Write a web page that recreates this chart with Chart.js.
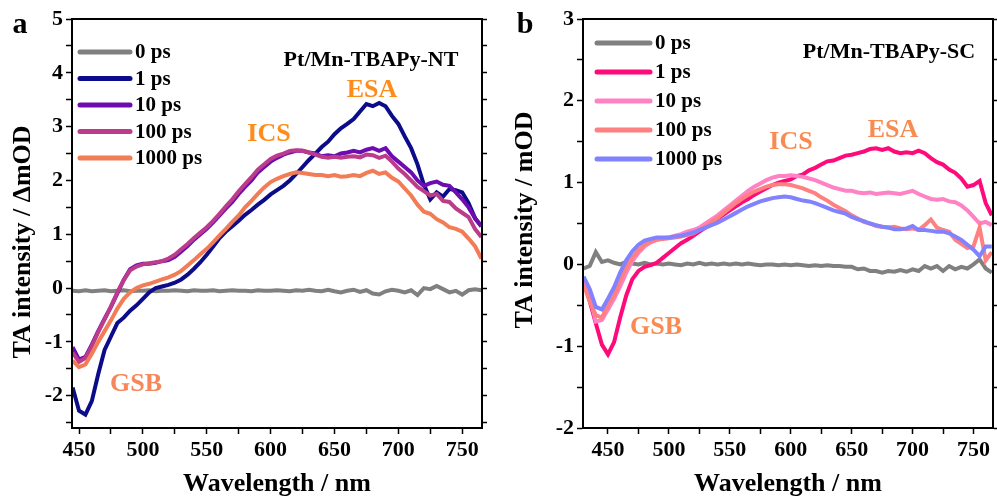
<!DOCTYPE html>
<html>
<head>
<meta charset="utf-8">
<script src="https://cdn.jsdelivr.net/npm/chart.js@4.4.1/dist/chart.umd.min.js"></script>
<style>
  html, body { margin: 0; padding: 0; background: #fff; }
  #wrap { position: relative; width: 997px; height: 502px; overflow: hidden; }
  canvas { position: absolute; top: 0; }
  #chartA { left: 0; }
  #chartB { left: 498px; }
</style>
</head>
<body>
<div id="wrap">
  <canvas id="chartA" width="498" height="502"></canvas>
  <canvas id="chartB" width="499" height="502"></canvas>
</div>
<script>
// Delay times (legend)
const delayLabels = ['0 ps', '1 ps', '10 ps', '100 ps', '1000 ps'];

// Panel a: Pt/Mn-TBAPy-NT
const wavelengthNT = [
  445, 450, 455, 460, 465, 470, 475, 480, 485, 490,
  495, 500, 505, 510, 515, 520, 525, 530, 535, 540,
  545, 550, 555, 560, 565, 570, 575, 580, 585, 590,
  595, 600, 605, 610, 615, 620, 625, 630, 635, 640,
  645, 650, 655, 660, 665, 670, 675, 680, 685, 690,
  695, 700, 705, 710, 715, 720, 725, 730, 735, 740,
  745, 750, 755, 760, 765
];
const nt0ps = [
  -0.05, -0.06, -0.04, -0.06, -0.05, -0.04, -0.06, -0.05, -0.04, -0.06,
  -0.05, -0.05, -0.04, -0.06, -0.05, -0.05, -0.04, -0.05, -0.06, -0.04,
  -0.05, -0.05, -0.04, -0.06, -0.05, -0.04, -0.05, -0.05, -0.06, -0.04,
  -0.05, -0.05, -0.04, -0.05, -0.06, -0.04, -0.05, -0.03, -0.05, -0.06,
  -0.03, -0.06, -0.08, -0.05, -0.03, -0.07, -0.04, -0.10, -0.12, -0.06,
  -0.03, -0.05, -0.08, -0.04, -0.13, 0.00, -0.02, 0.04, -0.02, -0.08,
  -0.05, -0.12, -0.04, -0.02, -0.04
];
const nt1ps = [
  -1.85, -2.28, -2.35, -2.10, -1.60, -1.15, -0.90, -0.65, -0.55, -0.42,
  -0.32, -0.20, -0.08, 0.00, 0.03, 0.06, 0.10, 0.16, 0.25, 0.36,
  0.48, 0.62, 0.77, 0.93, 1.05, 1.15, 1.25, 1.36, 1.45, 1.55,
  1.64, 1.74, 1.82, 1.90, 2.00, 2.12, 2.25, 2.38, 2.50, 2.62,
  2.72, 2.86, 2.97, 3.05, 3.14, 3.28, 3.42, 3.38, 3.44, 3.38,
  3.20, 3.05, 2.82, 2.60, 2.30, 1.92, 1.65, 1.78, 1.70, 1.84,
  1.82, 1.78, 1.58, 1.30, 1.15
];
const nt10ps = [
  -1.10, -1.33, -1.28, -1.05, -0.80, -0.57, -0.35, -0.10, 0.15, 0.35,
  0.42, 0.45, 0.45, 0.47, 0.50, 0.52, 0.58, 0.68, 0.78, 0.90,
  1.00, 1.10, 1.22, 1.35, 1.48, 1.60, 1.75, 1.88, 2.00, 2.15,
  2.25, 2.35, 2.42, 2.48, 2.52, 2.55, 2.55, 2.52, 2.50, 2.45,
  2.47, 2.45, 2.50, 2.52, 2.55, 2.52, 2.57, 2.60, 2.55, 2.60,
  2.45, 2.35, 2.25, 2.15, 2.00, 1.90, 1.95, 1.98, 1.92, 1.90,
  1.78, 1.65, 1.50, 1.30, 1.15
];
const nt100ps = [
  -1.20, -1.37, -1.30, -1.08, -0.82, -0.58, -0.34, -0.08, 0.15, 0.33,
  0.40, 0.44, 0.46, 0.48, 0.50, 0.55, 0.62, 0.72, 0.82, 0.93,
  1.03, 1.13, 1.25, 1.38, 1.52, 1.65, 1.80, 1.93, 2.06, 2.20,
  2.30, 2.40, 2.46, 2.50, 2.55, 2.56, 2.55, 2.52, 2.48, 2.44,
  2.42, 2.44, 2.42, 2.44, 2.45, 2.43, 2.48, 2.47, 2.42, 2.46,
  2.35, 2.22, 2.12, 2.00, 1.88, 1.80, 1.72, 1.75, 1.62, 1.60,
  1.48, 1.40, 1.32, 1.10, 0.95
];
const nt1000ps = [
  -1.35, -1.47, -1.42, -1.22, -1.00, -0.80, -0.60, -0.38, -0.20, -0.08,
  0.00, 0.05, 0.08, 0.12, 0.16, 0.20, 0.25, 0.32, 0.42, 0.52,
  0.63, 0.73, 0.85, 0.98, 1.10, 1.23, 1.35, 1.50, 1.62, 1.75,
  1.87, 1.97, 2.03, 2.08, 2.12, 2.15, 2.14, 2.12, 2.10, 2.10,
  2.08, 2.10, 2.07, 2.08, 2.10, 2.08, 2.14, 2.18, 2.12, 2.15,
  2.05, 1.98, 1.85, 1.72, 1.55, 1.42, 1.38, 1.28, 1.22, 1.13,
  1.10, 1.05, 0.92, 0.78, 0.55
];

// Panel b: Pt/Mn-TBAPy-SC
const wavelengthSC = [
  430, 435, 440, 445, 450, 455, 460, 465, 470, 475,
  480, 485, 490, 495, 500, 505, 510, 515, 520, 525,
  530, 535, 540, 545, 550, 555, 560, 565, 570, 575,
  580, 585, 590, 595, 600, 605, 610, 615, 620, 625,
  630, 635, 640, 645, 650, 655, 660, 665, 670, 675,
  680, 685, 690, 695, 700, 705, 710, 715, 720, 725,
  730, 735, 740, 745, 750, 755, 760, 765
];
const sc0ps = [
  -0.05, -0.02, 0.15, 0.03, 0.05, 0.02, 0.00, 0.03, 0.01, 0.00,
  0.02, 0.00, 0.01, 0.00, 0.01, 0.00, -0.01, 0.01, 0.00, 0.02,
  0.00, 0.01, 0.00, 0.01, 0.00, 0.01, 0.00, 0.01, 0.00, -0.01,
  0.00, 0.00, -0.01, 0.00, -0.01, 0.00, -0.01, -0.02, -0.01, -0.02,
  -0.01, -0.02, -0.02, -0.03, -0.03, -0.06, -0.05, -0.08, -0.08, -0.10,
  -0.08, -0.09, -0.07, -0.09, -0.06, -0.08, -0.02, -0.05, -0.02, -0.08,
  -0.02, -0.06, -0.03, -0.05, 0.00, 0.06, -0.05, -0.10
];
const sc1ps = [
  -0.20, -0.45, -0.72, -0.98, -1.10, -0.95, -0.65, -0.38, -0.18, -0.08,
  -0.03, -0.01, 0.02, 0.08, 0.14, 0.20, 0.26, 0.30, 0.35, 0.40,
  0.45, 0.50, 0.56, 0.61, 0.66, 0.71, 0.76, 0.80, 0.85, 0.89,
  0.93, 0.97, 1.00, 1.02, 1.04, 1.08, 1.10, 1.15, 1.18, 1.22,
  1.26, 1.27, 1.30, 1.33, 1.34, 1.36, 1.38, 1.41, 1.42, 1.40,
  1.42, 1.38, 1.36, 1.37, 1.36, 1.39, 1.36, 1.30, 1.25, 1.22,
  1.16, 1.12, 1.05, 0.95, 0.97, 1.02, 0.75, 0.60
];
const sc10ps = [
  -0.20, -0.40, -0.70, -0.68, -0.55, -0.42, -0.27, -0.10, 0.04, 0.14,
  0.22, 0.27, 0.30, 0.32, 0.33, 0.35, 0.37, 0.40, 0.42, 0.45,
  0.50, 0.55, 0.60, 0.66, 0.72, 0.78, 0.84, 0.90, 0.95, 0.99,
  1.03, 1.06, 1.08, 1.08, 1.09, 1.08, 1.07, 1.05, 1.03, 1.00,
  0.97, 0.94, 0.92, 0.90, 0.90, 0.88, 0.87, 0.88, 0.86, 0.87,
  0.88, 0.87, 0.86, 0.88, 0.90, 0.86, 0.83, 0.80, 0.79, 0.80,
  0.77, 0.76, 0.72, 0.66, 0.58, 0.50, 0.52, 0.48
];
const sc100ps = [
  -0.25, -0.45, -0.62, -0.65, -0.50, -0.38, -0.20, -0.04, 0.08, 0.17,
  0.24, 0.28, 0.30, 0.31, 0.32, 0.33, 0.34, 0.36, 0.38, 0.42,
  0.46, 0.52, 0.57, 0.63, 0.69, 0.75, 0.80, 0.85, 0.89, 0.92,
  0.95, 0.97, 0.98, 0.98, 0.97, 0.95, 0.93, 0.90, 0.87, 0.82,
  0.78, 0.73, 0.69, 0.65, 0.60, 0.56, 0.52, 0.50, 0.47, 0.46,
  0.45, 0.46, 0.44, 0.43, 0.44, 0.42, 0.48, 0.55, 0.45, 0.42,
  0.40, 0.30, 0.25, 0.20, 0.22, 0.45, 0.05, 0.15
];
const sc1000ps = [
  -0.15, -0.30, -0.52, -0.55, -0.42, -0.28, -0.10, 0.05, 0.16, 0.24,
  0.29, 0.31, 0.33, 0.33, 0.33, 0.34, 0.35, 0.37, 0.39, 0.42,
  0.45, 0.48, 0.51, 0.55, 0.59, 0.63, 0.67, 0.71, 0.74, 0.77,
  0.79, 0.81, 0.82, 0.83, 0.82, 0.80, 0.78, 0.77, 0.75, 0.72,
  0.69, 0.66, 0.64, 0.62, 0.58, 0.55, 0.53, 0.50, 0.48, 0.46,
  0.45, 0.43, 0.43, 0.44, 0.47, 0.42, 0.42, 0.41, 0.40, 0.40,
  0.38, 0.34, 0.30, 0.24, 0.18, 0.10, 0.22, 0.22
];

// Tick positions
const xTicks = [450, 475, 500, 525, 550, 575, 600, 625, 650, 675, 700, 725, 750];
const yTicksNT = [-2.5, -2, -1.5, -1, -0.5, 0, 0.5, 1, 1.5, 2, 2.5, 3, 3.5, 4, 4.5, 5];
const yTicksSC = [-2, -1.5, -1, -0.5, 0, 0.5, 1, 1.5, 2, 2.5, 3];

const FONT = '"Liberation Serif", "Times New Roman", serif';

// Draws frame, panel letter, y title, annotations and legend
const extrasPlugin = {
  id: 'extras',
  afterDraw(chart, args, opts) {
    const ctx = chart.ctx;
    const a = chart.chartArea;
    ctx.save();
    ctx.strokeStyle = '#000';
    ctx.lineWidth = 2;
    ctx.strokeRect(a.left, a.top, a.right - a.left, a.bottom - a.top);

    // vertical axis title
    const yt = opts.yTitle;
    ctx.save();
    ctx.translate(yt.x, yt.y);
    ctx.rotate(-Math.PI / 2);
    ctx.font = 'bold 26px ' + FONT;
    ctx.fillStyle = '#000';
    ctx.textAlign = 'center';
    ctx.textBaseline = 'middle';
    ctx.fillText(yt.text, 0, 0);
    ctx.restore();

    ctx.textBaseline = 'alphabetic';
    ctx.textAlign = 'center';
    opts.texts.forEach(t => {
      ctx.font = 'bold ' + t.size + 'px ' + FONT;
      ctx.fillStyle = t.color;
      ctx.fillText(t.text, t.x, t.y);
    });

    // legend
    const lg = opts.legend;
    ctx.textAlign = 'left';
    ctx.textBaseline = 'middle';
    ctx.font = 'bold ' + lg.size + 'px ' + FONT;
    ctx.lineCap = 'round';
    chart.data.datasets.forEach((ds, i) => {
      const y = lg.y + i * lg.step;
      ctx.strokeStyle = ds.borderColor;
      ctx.lineWidth = 5;
      ctx.beginPath();
      ctx.moveTo(lg.x, y);
      ctx.lineTo(lg.x + lg.len, y);
      ctx.stroke();
      ctx.fillStyle = '#000';
      ctx.fillText(ds.label, lg.x + lg.len + 5, y + 1);
    });
    ctx.restore();
  }
};

function makeChart(canvasId, cfg) {
  const datasets = cfg.series.map((vals, i) => ({
    label: delayLabels[i],
    data: cfg.wl.map((w, j) => ({ x: w, y: vals[j] })),
    borderColor: cfg.colors[i],
    borderWidth: 4,
    pointRadius: 0,
    tension: 0,
    fill: false,
    order: -i
  }));

  const tickFont = { family: FONT, size: 22, weight: 'bold' };
  const titleFont = { family: FONT, size: 26, weight: 'bold' };

  return new Chart(document.getElementById(canvasId), {
    type: 'line',
    data: { datasets: datasets },
    options: {
      responsive: false,
      animation: false,
      devicePixelRatio: 1,
      layout: { padding: { top: 19, left: 0, right: 0, bottom: 0 } },
      plugins: {
        legend: { display: false },
        tooltip: { enabled: false },
        extras: cfg.extras
      },
      scales: {
        x: {
          type: 'linear',
          position: 'bottom',
          min: cfg.xMin,
          max: cfg.xMax,
          afterBuildTicks: s => { s.ticks = xTicks.map(v => ({ value: v })); },
          afterFit: s => { s.height = 74; },
          ticks: {
            color: '#000',
            font: tickFont,
            padding: 3,
            maxRotation: 0,
            autoSkip: false,
            callback: v => (v % 50 === 0 ? String(v) : '')
          },
          grid: { drawOnChartArea: false, drawTicks: true, tickLength: 6, tickWidth: 1.5, tickColor: '#000' },
          border: { display: true, color: '#000', width: 2 },
          title: { display: true, text: 'Wavelength / nm', color: '#000', font: titleFont, padding: { top: 0, bottom: 2 } }
        },
        y: {
          type: 'linear',
          position: 'left',
          min: cfg.yMin,
          max: cfg.yMax,
          afterBuildTicks: s => { s.ticks = cfg.yTicks.map(v => ({ value: v })); },
          afterFit: s => { s.width = cfg.yWidth; },
          ticks: {
            color: '#000',
            font: tickFont,
            padding: 3,
            autoSkip: false,
            callback: v => (Number.isInteger(v) ? String(v) : '')
          },
          grid: { drawOnChartArea: false, drawTicks: true, tickLength: 6, tickWidth: 1.5, tickColor: '#000' },
          border: { display: true, color: '#000', width: 2 }
        },
        y2: {
          type: 'linear',
          position: 'right',
          min: cfg.yMin,
          max: cfg.yMax,
          afterBuildTicks: s => { s.ticks = cfg.yTicks.map(v => ({ value: v })); },
          afterFit: s => { s.width = cfg.y2Width; },
          ticks: { display: false },
          grid: { drawOnChartArea: false, drawTicks: true, tickLength: 5, tickWidth: 1.5, tickColor: '#000' },
          border: { display: true, color: '#000', width: 2 }
        }
      }
    },
    plugins: [extrasPlugin]
  });
}

document.addEventListener('DOMContentLoaded', function() {
  makeChart('chartA', {
    wl: wavelengthNT,
    series: [nt0ps, nt1ps, nt10ps, nt100ps, nt1000ps],
    colors: ['#808080', '#0c0c8a', '#6e0cb0', '#bc3c8c', '#f27c55'],
    xMin: 444.5, xMax: 765.5,
    yMin: -2.6, yMax: 5,
    yTicks: yTicksNT,
    yWidth: 72, y2Width: 16,
    extras: {
      yTitle: { text: 'TA intensity / \u0394mOD', x: 23, y: 242 },
      texts: [
        { text: 'a', x: 20, y: 33, size: 30, color: '#000' },
        { text: 'Pt/Mn-TBAPy-NT', x: 371, y: 66, size: 22, color: '#000' },
        { text: 'ESA', x: 372, y: 97, size: 26, color: '#ff8c1a' },
        { text: 'ICS', x: 269, y: 141, size: 26, color: '#ff8c1a' },
        { text: 'GSB', x: 136, y: 391, size: 26, color: '#f5875a' }
      ],
      legend: { x: 80, y: 52, step: 26.5, len: 50, size: 21 }
    }
  });

  makeChart('chartB', {
    wl: wavelengthSC,
    series: [sc0ps, sc1ps, sc10ps, sc100ps, sc1000ps],
    colors: ['#808080', '#ff0a7a', '#ff82c4', '#ff8080', '#8282ff'],
    xMin: 429.5, xMax: 766,
    yMin: -2, yMax: 3,
    yTicks: yTicksSC,
    yWidth: 85, y2Width: 4,
    extras: {
      yTitle: { text: 'TA intensity / mOD', x: 27, y: 220 },
      texts: [
        { text: 'b', x: 27, y: 33, size: 30, color: '#000' },
        { text: 'Pt/Mn-TBAPy-SC', x: 391, y: 58, size: 22, color: '#000' },
        { text: 'ESA', x: 395, y: 137, size: 26, color: '#f88b52' },
        { text: 'ICS', x: 293, y: 149, size: 26, color: '#f88b52' },
        { text: 'GSB', x: 158, y: 334, size: 26, color: '#f88b52' }
      ],
      legend: { x: 99, y: 43, step: 29, len: 53, size: 21 }
    }
  });
});
</script>
</body>
</html>
